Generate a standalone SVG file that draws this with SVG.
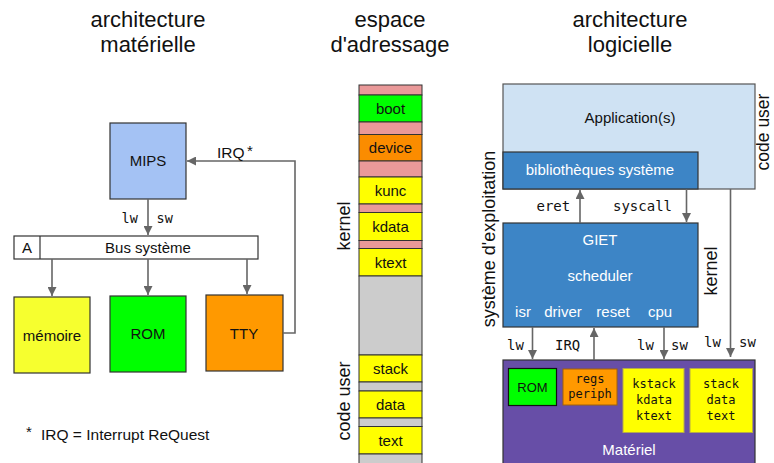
<svg xmlns="http://www.w3.org/2000/svg" width="774" height="463" viewBox="0 0 774 463">
  <style>
    .t { font-family: "Liberation Sans", Arial, sans-serif; fill: #111; }
    .title { font-size: 22px; text-anchor: middle; }
    .lbl { font-size: 15px; text-anchor: middle; }
    .side { font-size: 18px; text-anchor: middle; }
    .w { fill: #fff; }
    .mono { font-family: "DejaVu Sans Mono", "Liberation Mono", monospace; fill: #111; }
    .box { stroke: #333; stroke-width: 1.2; }
    .seg { stroke: #333; stroke-width: 1; }
    .wire { stroke: #666; stroke-width: 1.6; fill: none; }
  </style>
  <defs>
    <marker id="arrow" markerUnits="userSpaceOnUse" markerWidth="10" markerHeight="9" refX="9" refY="4.5" orient="auto">
      <path d="M0,0 L9,4.5 L0,9 z" fill="#666"/>
    </marker>
  </defs>

  <!-- column titles -->
  <g id="titles" class="t title">
    <text x="148" y="27">architecture</text>
    <text x="148" y="52">matérielle</text>
    <text x="390" y="27">espace</text>
    <text x="390" y="52">d'adressage</text>
    <text x="630" y="27">architecture</text>
    <text x="630" y="52">logicielle</text>
  </g>

  <!-- ===== hardware architecture ===== -->
  <g id="mips">
    <rect class="box" x="110" y="123" width="76" height="76" fill="#a4c2f4"/>
    <text class="t lbl" x="148" y="166">MIPS</text>
  </g>
  <g id="bus">
    <rect class="box" x="14" y="236" width="244" height="23" fill="#fff"/>
    <line class="box" x1="40" y1="236" x2="40" y2="259"/>
    <text class="t lbl" x="27" y="253">A</text>
    <text class="t lbl" x="148" y="253">Bus système</text>
  </g>
  <g id="memoire">
    <rect class="box" x="14" y="297" width="76" height="76" fill="#f6ff2f"/>
    <text class="t lbl" x="52" y="341">mémoire</text>
  </g>
  <g id="rom">
    <rect class="box" x="110" y="296" width="76" height="76" fill="#00ff00"/>
    <text class="t lbl" x="148" y="339">ROM</text>
  </g>
  <g id="tty">
    <rect class="box" x="206" y="295" width="77" height="76" fill="#ff9900"/>
    <text class="t lbl" x="244" y="339">TTY</text>
  </g>
  <g id="footnote" class="t">
    <text x="26" y="437" font-size="15">*</text>
    <text x="41" y="440" font-size="15.5">IRQ = Interrupt ReQuest</text>
  </g>

  <!-- ===== address space ===== -->
  <g id="address-space">
    <rect class="seg" x="359" y="85" width="63" height="10" fill="#ea9999"/>
    <rect class="seg" x="359" y="95" width="63" height="27" fill="#00ff00"/>
    <rect class="seg" x="359" y="122" width="63" height="12.5" fill="#ea9999"/>
    <rect class="seg" x="359" y="134.5" width="63" height="26.5" fill="#fb8c00"/>
    <rect class="seg" x="359" y="161" width="63" height="16" fill="#ea9999"/>
    <rect class="seg" x="359" y="177" width="63" height="27" fill="#ffff00"/>
    <rect class="seg" x="359" y="204" width="63" height="8.5" fill="#ea9999"/>
    <rect class="seg" x="359" y="212.5" width="63" height="28" fill="#ffff00"/>
    <rect class="seg" x="359" y="240.5" width="63" height="8" fill="#ea9999"/>
    <rect class="seg" x="359" y="248.5" width="63" height="27.5" fill="#ffff00"/>
    <rect class="seg" x="359" y="276" width="63" height="79" fill="#cccccc"/>
    <rect class="seg" x="359" y="355" width="63" height="27" fill="#ffff00"/>
    <rect class="seg" x="359" y="382" width="63" height="9" fill="#cccccc"/>
    <rect class="seg" x="359" y="391" width="63" height="27" fill="#ffff00"/>
    <rect class="seg" x="359" y="418" width="63" height="8.5" fill="#cccccc"/>
    <rect class="seg" x="359" y="426.5" width="63" height="27.5" fill="#ffff00"/>
    <rect class="seg" x="359" y="454" width="63" height="16" fill="#cccccc"/>
    <g class="t lbl">
      <text x="390.5" y="114">boot</text>
      <text x="390.5" y="153">device</text>
      <text x="390.5" y="196">kunc</text>
      <text x="390.5" y="232">kdata</text>
      <text x="390.5" y="268">ktext</text>
      <text x="390.5" y="374">stack</text>
      <text x="390.5" y="410">data</text>
      <text x="390.5" y="446">text</text>
    </g>
    <text class="t side" transform="translate(350 226) rotate(-90)">kernel</text>
    <text class="t side" transform="translate(349.5 401) rotate(-90)">code user</text>
  </g>

  <!-- ===== software architecture ===== -->
  <g id="application">
    <rect x="503" y="84" width="252" height="105" fill="#cfe2f3" stroke="#555" stroke-width="1.2"/>
    <text class="t lbl" x="630" y="123">Application(s)</text>
  </g>
  <g id="bibliotheques">
    <rect class="box" x="503" y="152" width="195" height="37" fill="#3d85c6"/>
    <text class="t lbl w" x="600" y="175">bibliothèques système</text>
  </g>
  <g id="giet">
    <rect class="box" x="503" y="223" width="195" height="104" fill="#3d85c6"/>
    <g class="t lbl w">
      <text x="600" y="245">GIET</text>
      <text x="600" y="281">scheduler</text>
      <text x="523" y="317">isr</text>
      <text x="563" y="317">driver</text>
      <text x="613" y="317">reset</text>
      <text x="660" y="317">cpu</text>
    </g>
  </g>
  <g id="materiel">
    <rect class="box" x="503" y="360" width="252" height="110" fill="#674ea7"/>
    <text class="t lbl w" x="629" y="455">Matériel</text>
  </g>
  <g id="materiel-rom">
    <rect x="508.5" y="368.5" width="48" height="37" fill="#00ff00" stroke="#111" stroke-width="1.2"/>
    <text class="t" x="532.5" y="392" font-size="13" text-anchor="middle">ROM</text>
  </g>
  <g id="regs-periph">
    <rect x="563" y="369" width="54" height="36" fill="#ff9900" stroke="#a0600a" stroke-width="1"/>
    <g class="mono" font-size="12" text-anchor="middle">
      <text x="590" y="383">regs</text>
      <text x="590" y="398">periph</text>
    </g>
  </g>
  <g id="kernel-memory">
    <rect x="623" y="368.5" width="61" height="64" fill="#ffff00" stroke="#b5aa4a" stroke-width="1"/>
    <g class="mono" font-size="12" text-anchor="middle">
      <text x="654" y="388">kstack</text>
      <text x="654" y="404">kdata</text>
      <text x="654" y="420">ktext</text>
    </g>
  </g>
  <g id="user-memory">
    <rect x="690" y="368.5" width="62.5" height="64" fill="#ffff00" stroke="#b5aa4a" stroke-width="1"/>
    <g class="mono" font-size="12" text-anchor="middle">
      <text x="721" y="388">stack</text>
      <text x="721" y="404">data</text>
      <text x="721" y="420">text</text>
    </g>
  </g>
  <g id="side-labels" class="t side">
    <text transform="translate(495 239) rotate(-90)">système d'exploitation</text>
    <text transform="translate(717 271) rotate(-90)">kernel</text>
    <text transform="translate(769 132) rotate(-90)" font-size="17.5">code user</text>
  </g>

  <!-- ===== connectors ===== -->
  <g id="connectors">
    <!-- hardware side -->
    <line class="wire" x1="148" y1="199" x2="148" y2="235" marker-end="url(#arrow)"/>
    <line class="wire" x1="52" y1="259" x2="52" y2="296" marker-end="url(#arrow)"/>
    <line class="wire" x1="148" y1="259" x2="148" y2="295" marker-end="url(#arrow)"/>
    <line class="wire" x1="247" y1="259" x2="247" y2="294" marker-end="url(#arrow)"/>
    <polyline class="wire" points="283,333 295,333 295,161 187,161" marker-end="url(#arrow)"/>
    <!-- software side -->
    <line class="wire" x1="580" y1="223" x2="580" y2="190" marker-end="url(#arrow)"/>
    <line class="wire" x1="686.5" y1="189" x2="686.5" y2="222" marker-end="url(#arrow)"/>
    <line class="wire" x1="532.5" y1="327" x2="532.5" y2="359" marker-end="url(#arrow)"/>
    <line class="wire" x1="594" y1="360" x2="594" y2="328" marker-end="url(#arrow)"/>
    <line class="wire" x1="664" y1="327" x2="664" y2="359" marker-end="url(#arrow)"/>
    <line class="wire" x1="730.5" y1="189" x2="730.5" y2="357" marker-end="url(#arrow)"/>
  </g>

  <!-- connector labels -->
  <g id="connector-labels">
    <text class="t" x="217" y="158" font-size="15.5">IRQ</text>
    <text class="t" x="247" y="156" font-size="15">*</text>
    <g class="mono" font-size="13.5">
      <text x="121.5" y="223">lw</text>
      <text x="156.5" y="223">sw</text>
    </g>
    <g class="mono" font-size="14">
      <text x="536.5" y="211">eret</text>
      <text x="613" y="211">syscall</text>
      <text x="507" y="350">lw</text>
      <text x="555" y="350">IRQ</text>
      <text x="637" y="350">lw</text>
      <text x="671" y="350">sw</text>
      <text x="704" y="347">lw</text>
      <text x="739" y="347">sw</text>
    </g>
  </g>
</svg>
